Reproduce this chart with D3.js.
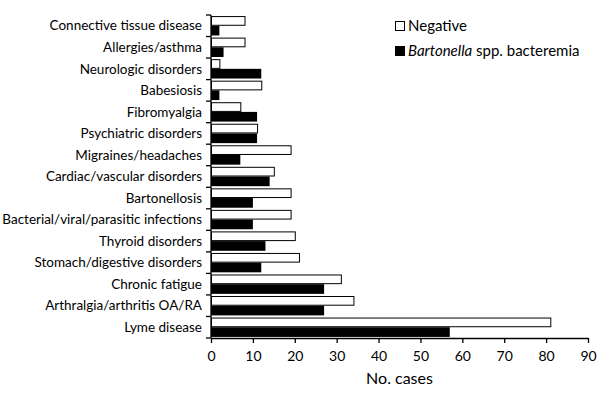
<!DOCTYPE html>
<html>
<head>
<meta charset="utf-8">
<script src="https://cdn.jsdelivr.net/npm/d3@7"></script>
<style>
  body { margin: 0; background: #fff; }
  text { font-family: Lato, "Open Sans", sans-serif; fill: #000; }
</style>
</head>
<body>
<svg id="chart" width="600" height="395"></svg>
<script>
// categories top to bottom
var categories = ["Connective tissue disease", "Allergies/asthma", "Neurologic disorders", "Babesiosis",
  "Fibromyalgia", "Psychiatric disorders", "Migraines/headaches", "Cardiac/vascular disorders",
  "Bartonellosis", "Bacterial/viral/parasitic infections", "Thyroid disorders",
  "Stomach/digestive disorders", "Chronic fatigue", "Arthralgia/arthritis OA/RA", "Lyme disease"];
var negative   = [8, 8, 2, 12, 7, 11, 19, 15, 19, 19, 20, 21, 31, 34, 81];
var bartonella = [2, 3, 12, 2, 11, 11, 7, 14, 10, 10, 13, 12, 27, 27, 57];
var xTicks = [0, 10, 20, 30, 40, 50, 60, 70, 80, 90];

var svg = d3.select("#chart")
var plotLeft = 211, plotRight = 588, plotTop = 15, plotBottom = 338;

var x = d3.scaleLinear().domain([0, 90]).range([plotLeft, plotRight]);
var y = d3.scaleBand().domain(categories).range([plotTop, plotBottom]).paddingInner(0.1).paddingOuter(0.05);
var sub = d3.scaleBand().domain(["neg", "bart"]).range([0, y.bandwidth()]);

var rows = svg.append("g").selectAll("g").data(categories).join("g")
  .attr("transform", function(d){ return "translate(0," + y(d) + ")"; });

rows.append("rect")
  .attr("x", x(0) + 0.5)
  .attr("y", sub("neg") + 0.5)
  .attr("width", function(d, i){ return x(negative[i]) - x(0); })
  .attr("height", sub.bandwidth() - 1)
  .attr("fill", "#fff").attr("stroke", "#000").attr("stroke-width", 1);

rows.append("rect")
  .attr("x", x(0))
  .attr("y", sub("bart"))
  .attr("width", function(d, i){ return x(bartonella[i]) - x(0); })
  .attr("height", sub.bandwidth())
  .attr("fill", "#000");

// x axis
var xAxis = svg.append("g")
  .attr("transform", "translate(0," + plotBottom + ")")
  .call(d3.axisBottom(x).tickValues(xTicks).tickSize(5).tickSizeOuter(0));
xAxis.select(".domain").attr("stroke", "#000").attr("stroke-width", 1.3);
xAxis.selectAll(".tick line").attr("stroke", "#000").attr("stroke-width", 1.3);
xAxis.selectAll("text").attr("font-size", 14).attr("dy", "1.05em");

// y axis with ticks between categories
var yAxis = svg.append("g").attr("transform", "translate(" + plotLeft + ",0)");
yAxis.append("line").attr("x1", 0).attr("x2", 0).attr("y1", plotTop).attr("y2", plotBottom)
  .attr("stroke", "#000").attr("stroke-width", 1.3);
var edges = [plotTop].concat(categories.map(function(d){ return y(d) + y.bandwidth() + y.step() * y.paddingInner() / 2; }));
edges[edges.length - 1] = plotBottom;
yAxis.selectAll(".yt").data(edges).join("line")
  .attr("x1", -5).attr("x2", 0)
  .attr("y1", function(d){ return d; }).attr("y2", function(d){ return d; })
  .attr("stroke", "#000").attr("stroke-width", 1.3);

svg.append("g").selectAll("text").data(categories).join("text")
  .attr("x", 202)
  .attr("y", function(d){ return y(d) + y.bandwidth() / 2; })
  .attr("dy", "0.35em")
  .attr("text-anchor", "end")
  .attr("font-size", 13.5)
  .text(function(d){ return d; });

svg.append("text")
  .attr("x", (plotLeft + plotRight) / 2).attr("y", 384)
  .attr("text-anchor", "middle").attr("font-size", 16)
  .text("No. cases");

// legend
var legend = svg.append("g").attr("transform", "translate(395,21)");
legend.append("rect").attr("x", 0.5).attr("y", 0.5).attr("width", 9).attr("height", 9)
  .attr("fill", "#fff").attr("stroke", "#000");
legend.append("text").attr("x", 13).attr("y", 5).attr("dy", "0.35em").attr("font-size", 15).text("Negative");
legend.append("rect").attr("x", 0).attr("y", 25).attr("width", 10).attr("height", 10).attr("fill", "#000");
var lt = legend.append("text").attr("x", 13).attr("y", 30).attr("dy", "0.35em").attr("font-size", 15);
lt.append("tspan").attr("font-style", "italic").text("Bartonella");
lt.append("tspan").text(" spp. bacteremia");
</script>
</body>
</html>
